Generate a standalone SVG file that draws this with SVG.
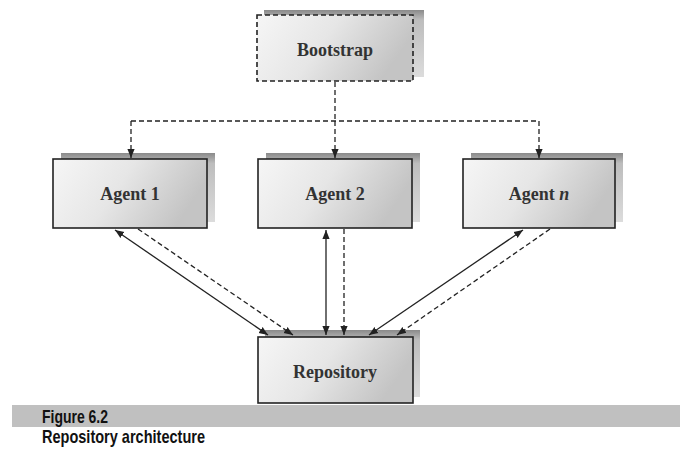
<svg xmlns="http://www.w3.org/2000/svg" width="680" height="464" viewBox="0 0 680 464">
<defs>
<linearGradient id="boxfill" x1="0" y1="0" x2="1" y2="0.3">
<stop offset="0" stop-color="#f6f6f6"/>
<stop offset="0.5" stop-color="#e6e6e6"/>
<stop offset="1" stop-color="#c4c4c4"/>
</linearGradient>
<linearGradient id="shadow" x1="0" y1="0" x2="0" y2="1">
<stop offset="0" stop-color="#8a8a8a"/>
<stop offset="0.15" stop-color="#bdbdbd"/>
<stop offset="1" stop-color="#dcdcdc"/>
</linearGradient>
<marker id="ah" viewBox="0 0 10 10" refX="10" refY="5" markerWidth="9" markerHeight="9" markerUnits="userSpaceOnUse" orient="auto-start-reverse">
<path d="M0,1 L10,5 L0,9 Z" fill="#222"/>
</marker>
</defs>
<style>
.box{fill:url(#boxfill);stroke:#222;stroke-width:1.6}
.shd{fill:url(#shadow)}
.lbl{font-family:"Liberation Serif","DejaVu Serif",serif;font-weight:bold;font-size:18px;fill:#333;text-anchor:middle}
.solid{stroke:#222;stroke-width:1.3;fill:none}
.dash{stroke:#222;stroke-width:1.3;fill:none;stroke-dasharray:5,3}
.cap{font-family:"Liberation Sans","Arial",sans-serif;font-weight:bold;font-size:19px;fill:#111}
</style>
<rect x="0" y="0" width="680" height="464" fill="#ffffff"/>

<g id="bootstrap">
<rect class="shd" x="264" y="10" width="160" height="67"/>
<rect x="257" y="15" width="156" height="66" fill="url(#boxfill)" stroke="#222" stroke-width="1.6" stroke-dasharray="5,3"/>
<text class="lbl" x="335" y="56">Bootstrap</text>
</g>

<g id="agent1">
<rect class="shd" x="61" y="153" width="154" height="69"/>
<rect class="box" x="53" y="159" width="154" height="69"/>
<text class="lbl" x="130" y="200">Agent 1</text>
</g>

<g id="agent2">
<rect class="shd" x="266" y="153" width="154" height="69"/>
<rect class="box" x="258" y="159" width="154" height="69"/>
<text class="lbl" x="335" y="200">Agent 2</text>
</g>

<g id="agentn">
<rect class="shd" x="471" y="153" width="152" height="69"/>
<rect class="box" x="463" y="159" width="152" height="69"/>
<text class="lbl" x="539" y="200">Agent <tspan font-style="italic">n</tspan></text>
</g>

<g id="repository">
<rect class="shd" x="265" y="330" width="155" height="67"/>
<rect class="box" x="258" y="337" width="155" height="66"/>
<text class="lbl" x="335" y="378">Repository</text>
</g>

<g id="connectors">
<path class="dash" d="M335,82 V121"/>
<path class="dash" d="M131,121 H539"/>
<path class="dash" d="M131,121 V158" marker-end="url(#ah)"/>
<path class="dash" d="M335,121 V158" marker-end="url(#ah)"/>
<path class="dash" d="M539,121 V158" marker-end="url(#ah)"/>

<path class="solid" d="M115,230 L268,335" marker-start="url(#ah)" marker-end="url(#ah)"/>
<path class="dash" d="M138,229 L293,335" marker-end="url(#ah)"/>
<path class="solid" d="M326,230 L326,335" marker-start="url(#ah)" marker-end="url(#ah)"/>
<path class="dash" d="M344,229 L344,335" marker-end="url(#ah)"/>
<path class="solid" d="M523,230 L369,335" marker-start="url(#ah)" marker-end="url(#ah)"/>
<path class="dash" d="M550,229 L397,335" marker-end="url(#ah)"/>
</g>

<g id="caption">
<rect x="12" y="405" width="668" height="22" fill="#c0c0c0"/>
<text class="cap" x="42" y="423" textLength="66" lengthAdjust="spacingAndGlyphs">Figure 6.2</text>
<text class="cap" x="42" y="443" textLength="163" lengthAdjust="spacingAndGlyphs">Repository architecture</text>
</g>
</svg>
